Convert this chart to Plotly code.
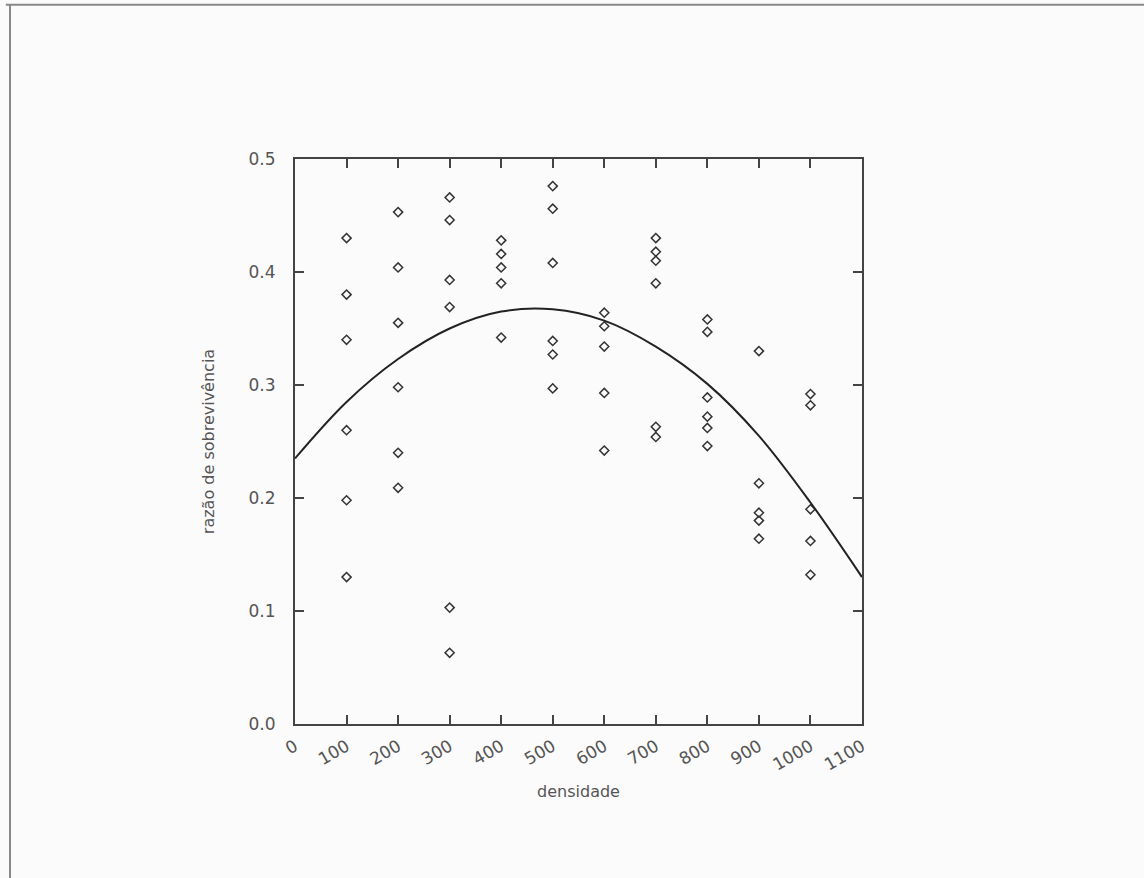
import plotly.graph_objects as go

# Observed data (densidade, razão de sobrevivência)
dens_100 = [0.430, 0.380, 0.340, 0.260, 0.198, 0.130]
dens_200 = [0.453, 0.404, 0.355, 0.298, 0.240, 0.209]
dens_300 = [0.466, 0.446, 0.393, 0.369, 0.103, 0.063]
dens_400 = [0.428, 0.416, 0.404, 0.390, 0.342]
dens_500 = [0.476, 0.456, 0.408, 0.339, 0.327, 0.297]
dens_600 = [0.364, 0.352, 0.334, 0.293, 0.242]
dens_700 = [0.430, 0.418, 0.410, 0.390, 0.263, 0.254]
dens_800 = [0.358, 0.347, 0.289, 0.272, 0.262, 0.246]
dens_900 = [0.330, 0.213, 0.187, 0.180, 0.164]
dens_1000 = [0.292, 0.282, 0.190, 0.162, 0.132]

groups = {100: dens_100, 200: dens_200, 300: dens_300, 400: dens_400, 500: dens_500,
          600: dens_600, 700: dens_700, 800: dens_800, 900: dens_900, 1000: dens_1000}

# Fitted curve
curve_x = [0, 100, 200, 300, 400, 500, 600, 700, 800, 900, 1000, 1100]
curve_y = [0.235, 0.285, 0.323, 0.350, 0.365, 0.367, 0.357, 0.334, 0.301, 0.255, 0.196, 0.130]

x_ticks = [0, 100, 200, 300, 400, 500, 600, 700, 800, 900, 1000, 1100]
y_ticks = [0.0, 0.1, 0.2, 0.3, 0.4, 0.5]

xs, ys = [], []
for k, vals in groups.items():
    for v in vals:
        xs.append(k)
        ys.append(v)

fig = go.Figure()
fig.add_trace(go.Scatter(x=xs, y=ys, mode="markers",
                         marker=dict(symbol="diamond-open", size=7, color="#333333",
                                     line=dict(width=1.5, color="#333333")),
                         showlegend=False))
fig.add_trace(go.Scatter(x=curve_x, y=curve_y, mode="lines",
                         line=dict(color="#222222", width=2, shape="spline", smoothing=1.0),
                         showlegend=False))

axis_common = dict(showline=True, linecolor="#444444", linewidth=2, mirror="ticks",
                   ticks="inside", ticklen=9, tickwidth=2, tickcolor="#444444",
                   showgrid=False, zeroline=False,
                   tickfont=dict(family="DejaVu Sans", size=17, color="#555555"))

fig.update_xaxes(range=[0, 1100], tickvals=x_ticks, ticktext=[str(t) for t in x_ticks],
                 tickangle=-30, ticklabelstandoff=4,
                 title=dict(text="densidade", standoff=12,
                            font=dict(family="DejaVu Sans", size=16, color="#555555")),
                 **axis_common)
fig.update_yaxes(range=[0, 0.5], tickvals=y_ticks, ticktext=["0.0", "0.1", "0.2", "0.3", "0.4", "0.5"],
                 ticklabelstandoff=14,
                 title=dict(text="razão de sobrevivência", standoff=30,
                            font=dict(family="DejaVu Sans", size=16, color="#555555")),
                 **axis_common)

fig.add_shape(type="line", xref="paper", yref="paper", x0=-0.51, x1=1.6, y0=1.273, y1=1.273,
              line=dict(color="#888888", width=2))
fig.add_shape(type="line", xref="paper", yref="paper", x0=-0.5026, x1=-0.5026, y0=1.273, y1=-0.4,
              line=dict(color="#888888", width=2))

fig.update_layout(width=1144, height=878,
                  margin=dict(l=295, r=282, t=159, b=154),
                  paper_bgcolor="#fbfbfb", plot_bgcolor="#fbfbfb")

fig.write_html("out.html")
